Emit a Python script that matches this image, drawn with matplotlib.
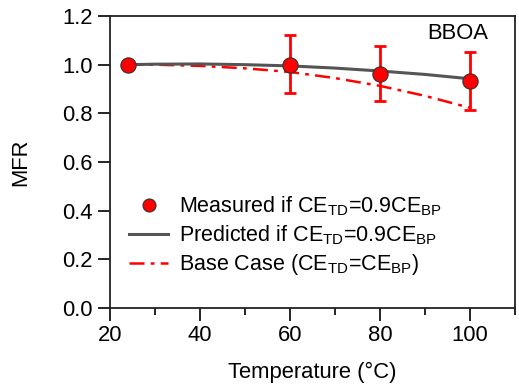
import matplotlib
matplotlib.use("Agg")
import matplotlib.pyplot as plt
from matplotlib.ticker import MultipleLocator

plt.rcParams['font.family'] = ['Liberation Sans', 'DejaVu Sans']
plt.rcParams['mathtext.fontset'] = 'custom'
plt.rcParams['mathtext.rm'] = 'Liberation Sans'
plt.rcParams['mathtext.it'] = 'Liberation Sans'

# measured MFR with error bars
temp_meas = [24, 60, 80, 100]
mfr_meas = [1.0, 1.0, 0.962, 0.932]
err_lo = [0.0, 0.118, 0.112, 0.117]
err_hi = [0.0, 0.12, 0.113, 0.12]

# model curves
temp_model = [24, 30, 40, 50, 60, 70, 80, 90, 100]
mfr_pred = [1.0, 1.002, 1.003, 1.0, 0.995, 0.986, 0.974, 0.96, 0.942]
mfr_base = [1.0, 1.0, 0.995, 0.985, 0.97, 0.945, 0.913, 0.872, 0.823]

fig, ax = plt.subplots(figsize=(5.19, 3.90), dpi=100)
fig.subplots_adjust(left=0.212, right=0.992, top=0.959, bottom=0.21)

ax.plot(temp_model, mfr_base, color='red', linestyle=(0, (6, 2.5, 1.5, 2.5)), lw=1.8,
        label='Base Case (CE$_{\\mathrm{TD}}$=CE$_{\\mathrm{BP}}$)', zorder=2)
ax.errorbar(temp_meas, mfr_meas, yerr=[err_lo, err_hi], fmt='none', ecolor='red',
            elinewidth=2, capsize=4, capthick=2, zorder=3)
ax.plot(temp_model, mfr_pred, color='#555555', lw=2.2,
        label='Predicted if CE$_{\\mathrm{TD}}$=0.9CE$_{\\mathrm{BP}}$', zorder=4)
ax.plot(temp_meas, mfr_meas, 'o', color='red', markeredgecolor='#333333',
        markeredgewidth=0.8, markersize=11,
        label='Measured if CE$_{\\mathrm{TD}}$=0.9CE$_{\\mathrm{BP}}$', zorder=5)

ax.set_xlim(20, 110)
ax.set_ylim(0, 1.2)
ax.xaxis.set_major_locator(MultipleLocator(20))
ax.xaxis.set_minor_locator(MultipleLocator(10))
ax.yaxis.set_major_locator(MultipleLocator(0.2))
ax.yaxis.set_major_formatter(matplotlib.ticker.FormatStrFormatter('%.1f'))
ax.tick_params(axis='both', which='major', direction='out', length=9, width=1.2,
               labelsize=15.8, top=False, right=False)
ax.tick_params(axis='x', which='minor', direction='out', length=5, width=1.2, top=False)
for s in ax.spines.values():
    s.set_linewidth(1.3)
    s.set_color('#222222')

ax.set_xlabel('Temperature (°C)', fontsize=15.8, labelpad=11)
ax.set_ylabel('MFR', fontsize=15.8, labelpad=22)
ax.text(0.935, 0.975, 'BBOA', transform=ax.transAxes, fontsize=15.8, ha='right', va='top')

h, l = ax.get_legend_handles_labels()
ax.legend([h[2], h[1], h[0]], [l[2], l[1], l[0]], loc='lower left',
          bbox_to_anchor=(0.0, 0.04), frameon=False, fontsize=15.5,
          handlelength=1.8, handletextpad=0.5, labelspacing=0.25, markerscale=0.85)

fig.savefig('out.png', dpi=100)
